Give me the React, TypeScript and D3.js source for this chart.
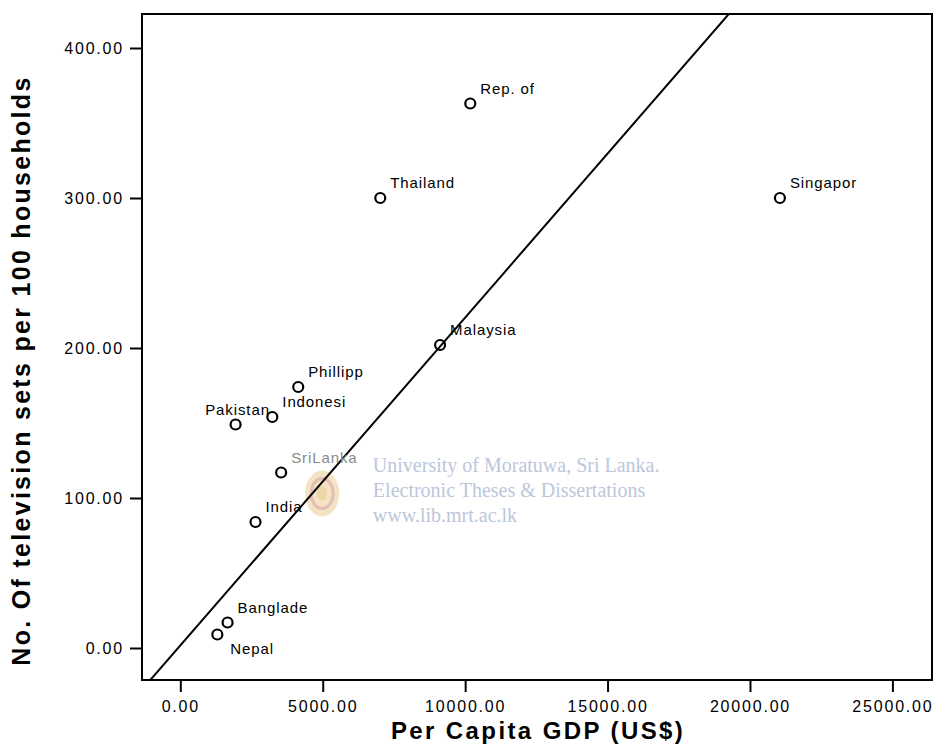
import React, { useRef, useEffect } from 'react';
import * as d3 from 'd3';

// countries (labels truncated as in the original output)
const countries = ['Rep. of', 'Thailand', 'Singapor', 'Malaysia', 'Phillipp', 'Indonesi', 'Pakistan', 'SriLanka', 'India', 'Banglade', 'Nepal'];
const gdpPerCapita = [10180, 7020, 21050, 9120, 4140, 3230, 1940, 3540, 2640, 1660, 1300];
const tvPer100 = [363, 300, 300, 202, 174, 154, 149, 117, 84, 17, 9];
// where each label sits relative to its marker
const labelPlacement = ['ur', 'ur', 'ur', 'ur', 'ur', 'ur', 'up', 'ur', 'ur', 'ur', 'dr'];

const xTicks = [0, 5000, 10000, 15000, 20000, 25000];
const yTicks = [0, 100, 200, 300, 400];

// fitted line: tv = intercept + slope * gdp
const fitIntercept = 1.7;
const fitSlope = 0.02186;

const watermarkLines = ['University of Moratuwa, Sri Lanka.', 'Electronic Theses & Dissertations', 'www.lib.mrt.ac.lk'];

const App: React.FC = () => {
  const svgRef = useRef<SVGSVGElement>(null);

  useEffect(() => {
    if (!svgRef.current) return;
    const width = 938;
    const height = 745;
    const margin = { top: 14, right: 6, bottom: 65, left: 142 };
    const innerWidth = width - margin.left - margin.right;
    const innerHeight = height - margin.top - margin.bottom;

    d3.select(svgRef.current).selectAll('*').remove();
    const root = d3.select(svgRef.current).attr('width', width).attr('height', height);
    root.append('rect').attr('width', width).attr('height', height).attr('fill', '#fff');

    const svg = root.append('g').attr('transform', `translate(${margin.left},${margin.top})`);

    const xScale = d3.scaleLinear().domain([-1345, 26390]).range([0, innerWidth]);
    const yScale = d3.scaleLinear().domain([-21.33, 422.67]).range([innerHeight, 0]);

    const font = 'Arial, "Liberation Sans", Helvetica, sans-serif';

    // watermark
    const wm = svg
      .append('g')
      .attr('font-family', '"Liberation Serif", "Times New Roman", serif')
      .attr('font-size', 20)
      .attr('fill', '#bcc7dc');
    wm.selectAll('text')
      .data(watermarkLines)
      .enter()
      .append('text')
      .attr('x', xScale(6760))
      .attr('y', (_d, i) => yScale(117.5) + i * 25)
      .text((d) => d);
    const emblem = svg.append('g').attr('transform', `translate(${xScale(4980)},${yScale(103)})`).attr('opacity', 0.45);
    emblem.append('ellipse').attr('rx', 17).attr('ry', 23).attr('fill', '#e8c27a');
    emblem.append('ellipse').attr('rx', 11).attr('ry', 15).attr('fill', 'none').attr('stroke', '#c07060').attr('stroke-width', 3);
    emblem.append('ellipse').attr('rx', 5).attr('ry', 7).attr('fill', '#d4a640');

    // axes
    const xAxis = svg
      .append('g')
      .attr('transform', `translate(0,${innerHeight})`)
      .call(d3.axisBottom(xScale).tickValues(xTicks).tickSize(12).tickPadding(9).tickFormat((d) => d3.format('.2f')(d as number)));
    const yAxis = svg
      .append('g')
      .call(d3.axisLeft(yScale).tickValues(yTicks).tickSize(12).tickPadding(6).tickFormat((d) => d3.format('.2f')(d as number)));
    [xAxis, yAxis].forEach((ax) => {
      ax.select('.domain').remove();
      ax.selectAll('line').attr('stroke', '#000').attr('stroke-width', 2);
      ax.selectAll('text').attr('font-family', font).attr('font-size', 16).attr('letter-spacing', 1.8).attr('fill', '#000');
    });

    // frame
    svg
      .append('rect')
      .attr('width', innerWidth)
      .attr('height', innerHeight)
      .attr('fill', 'none')
      .attr('stroke', '#000')
      .attr('stroke-width', 2);

    // fit line, clipped to plot area
    svg.append('clipPath').attr('id', 'plot-clip').append('rect').attr('width', innerWidth).attr('height', innerHeight);
    const [x0, x1] = xScale.domain();
    const fitLine = d3
      .line<number>()
      .x((d) => xScale(d))
      .y((d) => yScale(fitIntercept + fitSlope * d));
    svg
      .append('path')
      .datum([x0, x1])
      .attr('clip-path', 'url(#plot-clip)')
      .attr('fill', 'none')
      .attr('stroke', '#000')
      .attr('stroke-width', 2)
      .attr('d', fitLine);

    // points
    const pts = countries.map((name, i) => ({ name, x: gdpPerCapita[i], y: tvPer100[i], place: labelPlacement[i] }));
    svg
      .selectAll('.pt')
      .data(pts)
      .enter()
      .append('circle')
      .attr('class', 'pt')
      .attr('cx', (d) => xScale(d.x))
      .attr('cy', (d) => yScale(d.y))
      .attr('r', 5)
      .attr('fill', 'none')
      .attr('stroke', '#000')
      .attr('stroke-width', 2.2);

    svg
      .selectAll('.lbl')
      .data(pts)
      .enter()
      .append('text')
      .attr('class', 'lbl')
      .attr('font-family', font)
      .attr('font-size', 15)
      .attr('letter-spacing', 0.9)
      .attr('fill', (d) => (d.name === 'SriLanka' ? '#8a8a8a' : '#000'))
      .attr('text-anchor', (d) => (d.place === 'up' ? 'middle' : 'start'))
      .attr('x', (d) => xScale(d.x) + (d.place === 'up' ? 2 : d.place === 'dr' ? 13 : 10))
      .attr('y', (d) => yScale(d.y) + (d.place === 'dr' ? 19 : -10))
      .text((d) => d.name);

    // axis titles
    svg
      .append('text')
      .attr('x', xScale(12560))
      .attr('y', innerHeight + 59)
      .attr('text-anchor', 'middle')
      .attr('font-family', font)
      .attr('font-weight', 'bold')
      .attr('font-size', 24)
      .attr('letter-spacing', 2.4)
      .text('Per Capita GDP (US$)');

    svg
      .append('text')
      .attr('transform', 'rotate(-90)')
      .attr('x', -yScale(185))
      .attr('y', -112)
      .attr('text-anchor', 'middle')
      .attr('font-family', font)
      .attr('font-weight', 'bold')
      .attr('font-size', 25)
      .attr('letter-spacing', 2.3)
      .text('No. Of television sets per 100 households');
  }, []);

  return <svg ref={svgRef} style={{ display: 'block', position: 'absolute', left: 0, top: 0 }}></svg>;
};

export default App;
